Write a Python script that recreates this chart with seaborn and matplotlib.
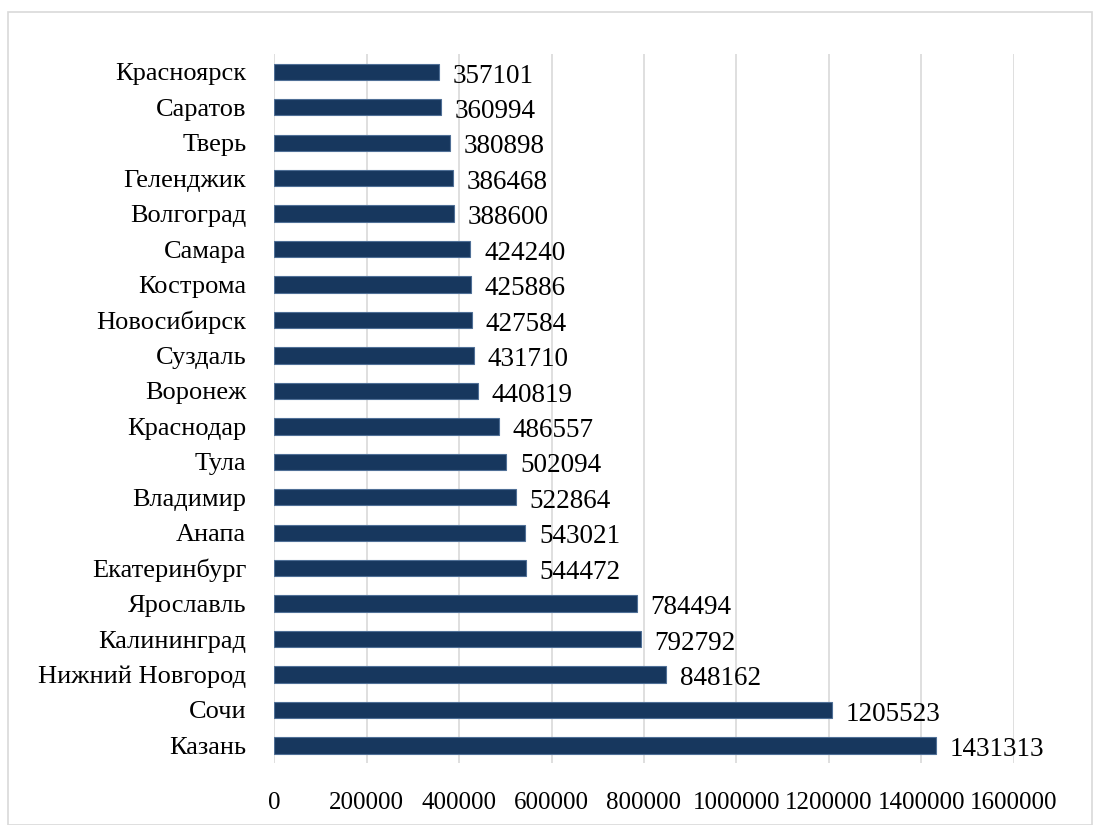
import matplotlib
matplotlib.use("Agg")
import matplotlib.pyplot as plt
import seaborn as sns
import pandas as pd

# Data
cities = ["Красноярск", "Саратов", "Тверь", "Геленджик", "Волгоград", "Самара",
          "Кострома", "Новосибирск", "Суздаль", "Воронеж", "Краснодар", "Тула",
          "Владимир", "Анапа", "Екатеринбург", "Ярославль", "Калининград",
          "Нижний Новгород", "Сочи", "Казань"]
values = [357101, 360994, 380898, 386468, 388600, 424240, 425886, 427584,
          431710, 440819, 486557, 502094, 522864, 543021, 544472, 784494,
          792792, 848162, 1205523, 1431313]
x_ticks = [0, 200000, 400000, 600000, 800000, 1000000, 1200000, 1400000, 1600000]

df = pd.DataFrame({"city": cities, "value": values})

sns.set_style("white")
plt.rcParams['font.family'] = ['Liberation Serif', 'DejaVu Serif']
plt.rcParams['text.color'] = 'black'
plt.rcParams['xtick.color'] = 'black'
plt.rcParams['ytick.color'] = 'black'

fig = plt.figure(figsize=(10.93, 8.25), dpi=100)
ax = fig.add_axes([0.2507, 0.075, 0.677, 0.8594])

sns.barplot(data=df, x="value", y="city", orient="h", color="#17375e",
            width=0.46, edgecolor="#4f6f96", linewidth=0.8, saturation=1,
            ax=ax, zorder=3)

for c in ax.containers:
    anns = ax.bar_label(c, labels=[str(v) for v in values], padding=8,
                        fontsize=19.5, color="black")
    for a in anns:
        a.xyann = (10, -3)

ax.set_xlim(0, 1600000)
ax.set_ylim(19.5, -0.5)
ax.set_xticks(x_ticks)
ax.set_xticklabels([str(t) for t in x_ticks], fontsize=18)
ax.tick_params(axis="x", length=0, pad=21)
ax.tick_params(axis="y", length=0, pad=20, labelsize=19)
ax.set_xlabel("")
ax.set_ylabel("")
ax.grid(axis="x", color="#d9d9d9", linewidth=1.2, zorder=0)
ax.grid(axis="y", visible=False)
for s in ax.spines.values():
    s.set_visible(False)

# outer border
border = plt.Rectangle((8 / 1093, 0.0), 1 - 9 / 1093, 1 - 12 / 825,
                       transform=fig.transFigure, fill=False,
                       edgecolor="#d9d9d9", linewidth=1.2)
fig.patches.append(border)

fig.savefig("out.png", dpi=100)
